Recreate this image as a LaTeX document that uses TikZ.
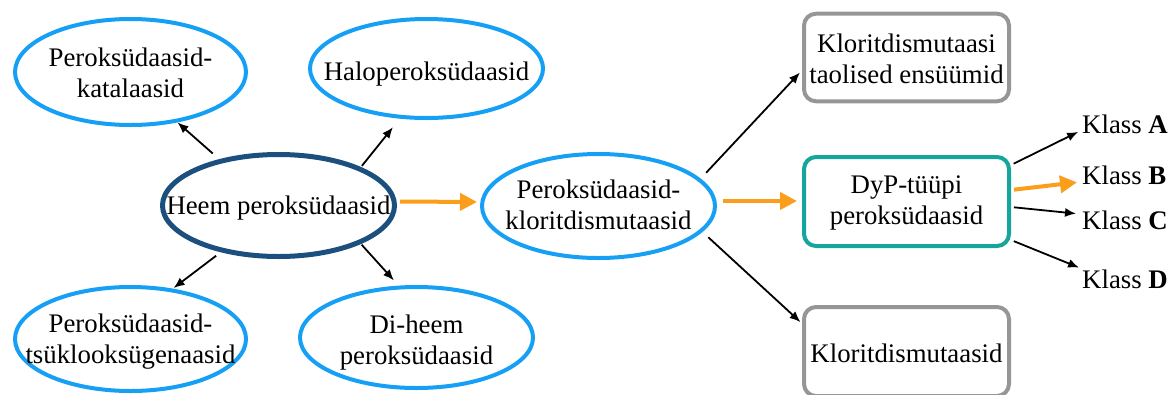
\documentclass[tikz,border=0pt]{standalone}
\usepackage{fontspec}
\setmainfont{Liberation Serif}
\usetikzlibrary{shapes.geometric,arrows.meta}
\definecolor{lblue}{RGB}{22,160,245}
\definecolor{dblue}{RGB}{27,79,125}
\definecolor{tealb}{RGB}{20,165,155}
\definecolor{grayb}{RGB}{150,150,150}
\definecolor{orng}{RGB}{250,158,27}
\newcommand\ztext[2]{\makebox[0pt]{\raisebox{#1}[0pt][0pt]{\begin{tabular}[t]{@{}c@{}}#2\end{tabular}}}}
\begin{document}
\begin{tikzpicture}[x=1pt,y=-1pt,font=\fontsize{26.8}{31}\selectfont,
  ell/.style={ellipse, draw=lblue, line width=4pt, inner sep=0pt},
  heemst/.style={ellipse, draw=dblue, line width=5pt, inner sep=0pt},
  boxst/.style={rectangle, rounded corners=12pt, line width=4pt, inner sep=0pt, minimum width=205pt},
  arr/.style={-{Latex[length=11pt,width=9pt]}, line width=1.8pt},
  oarr/.style={-{Triangle[length=17pt,width=17pt]}, line width=4pt, draw=orng},
  kl/.style={anchor=west, inner sep=2pt}]
\useasboundingbox (0,0) rectangle (1168,394);
\clip (0,0) rectangle (1168,394);
\node[ell, minimum width=231pt, minimum height=106pt] (kat) at (130.5,72) {\ztext{6pt}{Peroksüdaasid-\\katalaasid}};
\node[ell, minimum width=233pt, minimum height=99pt] (halo) at (426.5,68.5) {\ztext{-11.5pt}{Haloperoksüdaasid}};
\node[heemst, minimum width=232pt, minimum height=102pt] (heem) at (278.5,205.5) {\ztext{-8.5pt}{Heem peroksüdaasid}};
\node[ell, minimum width=231pt, minimum height=104pt] (tsyk) at (130.5,339) {\ztext{7pt}{Peroksüdaasid-\\tsüklooksügenaasid}};
\node[ell, minimum width=233pt, minimum height=101pt] (diheem) at (416.5,337.5) {\ztext{4.5pt}{Di-heem\\peroksüdaasid}};
\node[ell, minimum width=233pt, minimum height=104pt] (pkd) at (598.5,206) {\ztext{8pt}{Peroksüdaasid-\\kloritdismutaasid}};
\node[boxst, draw=grayb, minimum height=87.6pt] (taol) at (906.5,57.5) {\ztext{5.5pt}{Kloritdismutaasi\\taolised ensüümid}};
\node[boxst, draw=tealb, minimum height=89pt] (dyp) at (906.5,201.5) {\ztext{8.5pt}{DyP-tüüpi\\peroksüdaasid}};
\node[boxst, draw=grayb, minimum height=89pt] (klor) at (906.5,351.5) {\ztext{-10.5pt}{Kloritdismutaasid}};
\node[kl] (klA) at (1080,124) {Klass \textbf{A}};
\node[kl] (klB) at (1080,175) {Klass \textbf{B}};
\node[kl] (klC) at (1080,220) {Klass \textbf{C}};
\node[kl] (klD) at (1080,279) {Klass \textbf{D}};
\draw[arr, shorten <=8.6pt] (heem.142.5) -- (kat.-47);
\draw[arr, shorten <=1.6pt, shorten >=11pt] (heem.25.6) -- (halo.-118.6);
\draw[arr, shorten <=5.8pt, shorten >=1pt] (heem.-141.4) -- (tsyk.50.6);
\draw[arr, shorten <=1pt, shorten >=7pt] (heem.-25.9) -- (diheem.109.6);
\draw[oarr, shorten <=3pt, shorten >=3pt] ([yshift=4pt]heem.east) -- ([yshift=4pt]pkd.west);
\draw[oarr, shorten <=6pt, shorten >=5pt] ([yshift=5pt]pkd.east) -- ([yshift=0.5pt]dyp.west);
\draw[arr, shorten <=8pt, shorten >=3pt] (pkd.15.1) -- (taol.187.5);
\draw[arr, shorten <=8pt, shorten >=2pt] (pkd.-14.6) -- (klor.165.3);
\draw[arr, shorten <=3pt, shorten >=2pt] ([yshift=36.5pt]dyp.east) -- ([yshift=-7pt]klA.west);
\draw[oarr, shorten <=3pt, shorten >=3pt] ([yshift=11.5pt]dyp.east) -- ([yshift=-7pt]klB.west);
\draw[arr, shorten <=3pt, shorten >=4pt] ([yshift=-5.5pt]dyp.east) -- ([yshift=6pt]klC.west);
\draw[arr, shorten <=3pt, shorten >=1pt] ([yshift=-38.5pt]dyp.east) -- ([yshift=11pt]klD.west);
\end{tikzpicture}
\end{document}
